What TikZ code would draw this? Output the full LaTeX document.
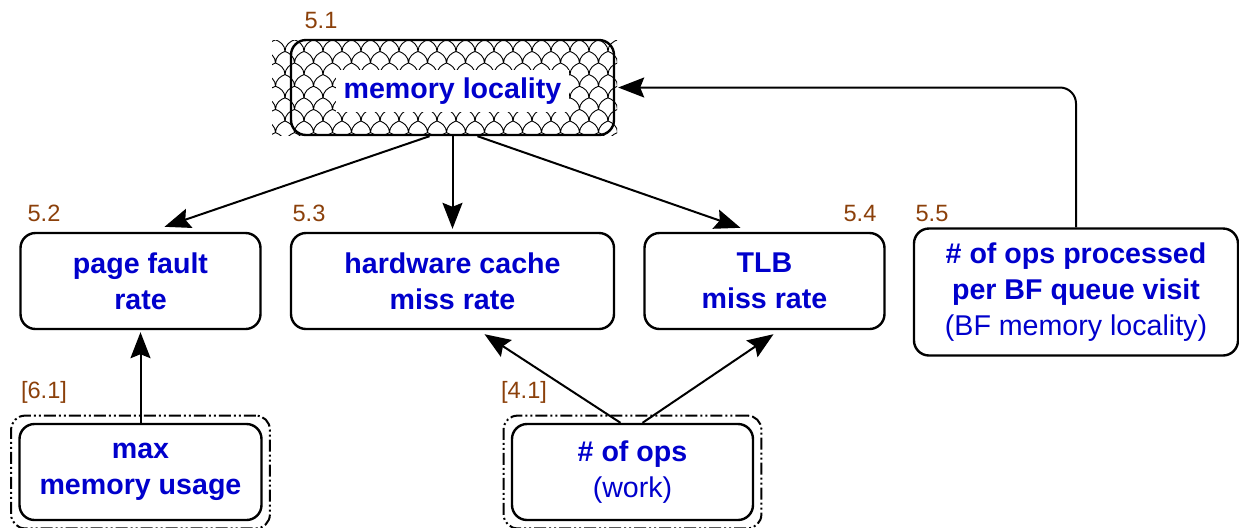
\documentclass[tikz,border=0pt]{standalone}
\usepackage{fontspec}
\setmainfont{Liberation Sans}
\usetikzlibrary{arrows.meta,patterns,fit}
\definecolor{textblue}{RGB}{0,0,204}
\definecolor{numbrown}{RGB}{139,64,10}
% fish-scale fill
\pgfdeclarepatternformonly{fishscales}{\pgfqpoint{-0.5pt}{-0.5pt}}{\pgfqpoint{10pt}{12.1pt}}{\pgfqpoint{9.5pt}{11.6pt}}{
  \pgfsetlinewidth{0.45pt}
  \pgfpathmoveto{\pgfqpoint{0pt}{5.8pt}}
  \pgfpathcurveto{\pgfqpoint{0pt}{9pt}}{\pgfqpoint{2.5pt}{10.8pt}}{\pgfqpoint{4.75pt}{11.6pt}}
  \pgfpathcurveto{\pgfqpoint{7pt}{10.8pt}}{\pgfqpoint{9.5pt}{9pt}}{\pgfqpoint{9.5pt}{5.8pt}}
  \pgfpathmoveto{\pgfqpoint{0pt}{5.8pt}}
  \pgfpathcurveto{\pgfqpoint{2.25pt}{5pt}}{\pgfqpoint{4.75pt}{3.2pt}}{\pgfqpoint{4.75pt}{0pt}}
  \pgfpathmoveto{\pgfqpoint{9.5pt}{5.8pt}}
  \pgfpathcurveto{\pgfqpoint{7.25pt}{5pt}}{\pgfqpoint{4.75pt}{3.2pt}}{\pgfqpoint{4.75pt}{0pt}}
  \pgfusepath{stroke}}
\begin{document}
\begin{tikzpicture}[x=0.5pt,y=-0.5pt,
  metric/.style={draw,line width=1.2pt,rounded corners=7.5pt,align=center,
    text=textblue,font=\fontsize{14.3}{18}\selectfont\bfseries,
    minimum width=120pt,minimum height=48pt,inner sep=0pt},
  secnum/.style={text=numbrown,font=\fontsize{11.8}{14}\selectfont},
  input/.style={draw,line width=1pt,rounded corners=7pt,
    dash pattern=on 6pt off 1.5pt on 1pt off 1.5pt on 1pt off 1.5pt,inner sep=3.6pt},
  link/.style={line width=1pt,-{Stealth[length=13pt,width=10pt,inset=2pt]}}]
\useasboundingbox (0,0) rectangle (1239,527);

% top metric
\fill[pattern=fishscales] (272,40) rectangle (617,135);
\node[metric,minimum width=161.5pt,minimum height=47.5pt] (ml) at (452.5,87.5) {};
\node[fill=white,text=textblue,font=\fontsize{14.3}{18}\selectfont\bfseries,inner sep=4pt] (mltext) at (452.5,91) {memory locality};
\node[secnum] (n51) at (321,20) {5.1};

% second row
\node[metric] (pf) at (140.5,281) {page fault\\rate};
\node[metric,minimum width=161.5pt] (hc) at (452.5,281) {hardware cache\\miss rate};
\node[metric] (tlb) at (764.5,281) {TLB\\miss rate};
\node[metric,minimum width=162pt,minimum height=63.5pt] (bf) at (1076,292)
  {\# of ops processed\\per BF queue visit\\{\mdseries (BF memory locality)}};
\node[secnum] (n52) at (44,213) {5.2};
\node[secnum] (n53) at (309,213) {5.3};
\node[secnum] (n54) at (860,213) {5.4};
\node[secnum] (n55) at (932,213) {5.5};

% inputs
\node[metric,minimum width=121pt] (mm) at (140.5,472) {max\\memory usage};
\node[metric,minimum width=120.5pt] (ops) at (632.5,472) {\# of ops\\{\mdseries (work)}};
\node[input,fit=(mm)] (mmout) {};
\node[input,fit=(ops)] (opsout) {};
\node[secnum] (n61) at (44,392) {[6.1]};
\node[secnum] (n41) at (524,392) {[4.1]};

% links
\draw[link] ([xshift=-11.5pt]ml.south) -- ([xshift=12pt,yshift=2.5pt]pf.north);
\draw[link] (ml.south) -- ([yshift=1.5pt]hc.north);
\draw[link] ([xshift=12.5pt]ml.south) -- ([xshift=-12pt,yshift=2pt]tlb.north);
\draw[link] (mm.north) -- ([yshift=-1pt]pf.south);
\draw[link] ([xshift=-6pt]ops.north) -- ([xshift=16pt,yshift=-2pt]hc.south);
\draw[link] ([xshift=5pt]ops.north) -- ([xshift=4.5pt,yshift=-2pt]tlb.south);
\draw[link,rounded corners=8pt] (bf.north) |- ([xshift=1.5pt]ml.east);
\end{tikzpicture}
\end{document}
